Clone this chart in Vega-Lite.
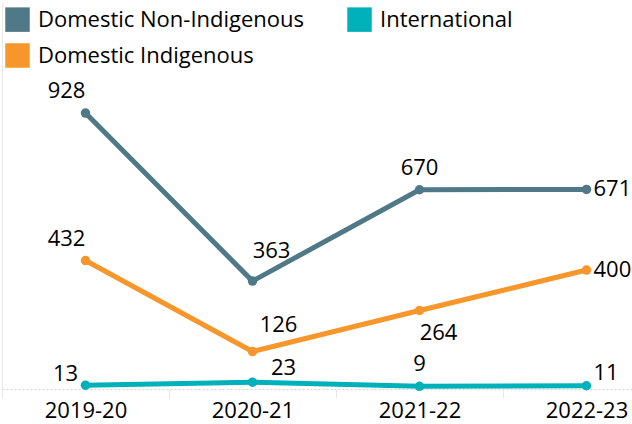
{
  "$schema": "https://vega.github.io/schema/vega-lite/v6.json",
  "width": 632,
  "height": 386,
  "autosize": {"type": "none"},
  "padding": {"top": 3, "left": 0, "right": 0, "bottom": 35},
  "config": {"view": {"stroke": null}, "font": "Open Sans"},
  "data": {
    "values": [
      {"year": "2019-20", "series": "Domestic Non-Indigenous", "value": 928},
      {"year": "2020-21", "series": "Domestic Non-Indigenous", "value": 363},
      {"year": "2021-22", "series": "Domestic Non-Indigenous", "value": 670},
      {"year": "2022-23", "series": "Domestic Non-Indigenous", "value": 671},
      {"year": "2019-20", "series": "Domestic Indigenous", "value": 432},
      {"year": "2020-21", "series": "Domestic Indigenous", "value": 126},
      {"year": "2021-22", "series": "Domestic Indigenous", "value": 264},
      {"year": "2022-23", "series": "Domestic Indigenous", "value": 400},
      {"year": "2019-20", "series": "International", "value": 13},
      {"year": "2020-21", "series": "International", "value": 23},
      {"year": "2021-22", "series": "International", "value": 9},
      {"year": "2022-23", "series": "International", "value": 11}
    ]
  },
  "encoding": {
    "x": {
      "field": "year", "type": "ordinal",
      "scale": {"type": "band", "range": [2, 670], "paddingInner": 0, "paddingOuter": 0},
      "axis": {
        "title": null, "labelAngle": 0, "tickBand": "extent", "ticks": true, "tickSize": 9,
        "tickColor": "#e6e6e6", "domainColor": "#d4d4d4", "domainDash": [2, 2],
        "labelFontSize": 22, "labelColor": "black", "labelPadding": 2, "grid": false,
        "labelFont": "Open Sans", "labelOverlap": false
      }
    },
    "y": {
      "field": "value", "type": "quantitative",
      "scale": {"domain": [0, 1298], "nice": false},
      "axis": {"title": null, "labels": false, "ticks": false, "grid": false, "domain": true, "domainColor": "#e8e8e8", "offset": -2}
    },
    "color": {
      "field": "series", "type": "nominal",
      "scale": {
        "domain": ["Domestic Non-Indigenous", "International", "Domestic Indigenous"],
        "range": ["#4f7987", "#00b1b9", "#f7962b"]
      },
      "legend": {
        "orient": "none", "legendX": 5, "legendY": 4, "direction": "horizontal", "columns": 2,
        "title": null, "symbolType": "square", "symbolSize": 600, "labelFontSize": 22,
        "labelFont": "Open Sans", "labelColor": "black", "labelOffset": 8, "columnPadding": 42,
        "rowPadding": 11, "symbolStrokeWidth": 0, "symbolOpacity": 1, "labelLimit": 400,
        "encode": {"symbols": {"update": {"fill": {"scale": "color", "field": "value"}, "fillOpacity": {"value": 1}, "strokeWidth": {"value": 0}}}}
      }
    }
  },
  "layer": [
    {"mark": {"type": "line", "strokeWidth": 5}},
    {"mark": {"type": "point", "filled": true, "size": 90, "opacity": 1}},
    {
      "transform": [{"filter": "datum.year == '2019-20' && datum.series != 'International'"}],
      "mark": {"type": "text", "fontSize": 22, "align": "center", "baseline": "middle", "dx": -19, "dy": -22},
      "encoding": {"text": {"field": "value"}, "color": {"value": "black"}}
    },
    {
      "transform": [{"filter": "datum.year == '2019-20' && datum.series == 'International'"}],
      "mark": {"type": "text", "fontSize": 22, "align": "center", "baseline": "middle", "dx": -20, "dy": -11},
      "encoding": {"text": {"field": "value"}, "color": {"value": "black"}}
    },
    {
      "transform": [{"filter": "datum.year == '2020-21' && datum.series == 'Domestic Non-Indigenous'"}],
      "mark": {"type": "text", "fontSize": 22, "align": "center", "baseline": "middle", "dx": 19, "dy": -30},
      "encoding": {"text": {"field": "value"}, "color": {"value": "black"}}
    },
    {
      "transform": [{"filter": "datum.year == '2020-21' && datum.series == 'Domestic Indigenous'"}],
      "mark": {"type": "text", "fontSize": 22, "align": "center", "baseline": "middle", "dx": 26, "dy": -27},
      "encoding": {"text": {"field": "value"}, "color": {"value": "black"}}
    },
    {
      "transform": [{"filter": "datum.year == '2020-21' && datum.series == 'International'"}],
      "mark": {"type": "text", "fontSize": 22, "align": "center", "baseline": "middle", "dx": 31, "dy": -14},
      "encoding": {"text": {"field": "value"}, "color": {"value": "black"}}
    },
    {
      "transform": [{"filter": "datum.year == '2021-22' && datum.series != 'Domestic Indigenous'"}],
      "mark": {"type": "text", "fontSize": 22, "align": "center", "baseline": "middle", "dx": 0, "dy": -22},
      "encoding": {"text": {"field": "value"}, "color": {"value": "black"}}
    },
    {
      "transform": [{"filter": "datum.year == '2021-22' && datum.series == 'Domestic Indigenous'"}],
      "mark": {"type": "text", "fontSize": 22, "align": "center", "baseline": "middle", "dx": 19, "dy": 23},
      "encoding": {"text": {"field": "value"}, "color": {"value": "black"}}
    },
    {
      "transform": [{"filter": "datum.year == '2022-23' && datum.series != 'International'"}],
      "mark": {"type": "text", "fontSize": 22, "align": "left", "baseline": "middle", "dx": 7, "dy": 0},
      "encoding": {"text": {"field": "value"}, "color": {"value": "black"}}
    },
    {
      "transform": [{"filter": "datum.year == '2022-23' && datum.series == 'International'"}],
      "mark": {"type": "text", "fontSize": 22, "align": "left", "baseline": "middle", "dx": 7, "dy": -13},
      "encoding": {"text": {"field": "value"}, "color": {"value": "black"}}
    }
  ]
}
